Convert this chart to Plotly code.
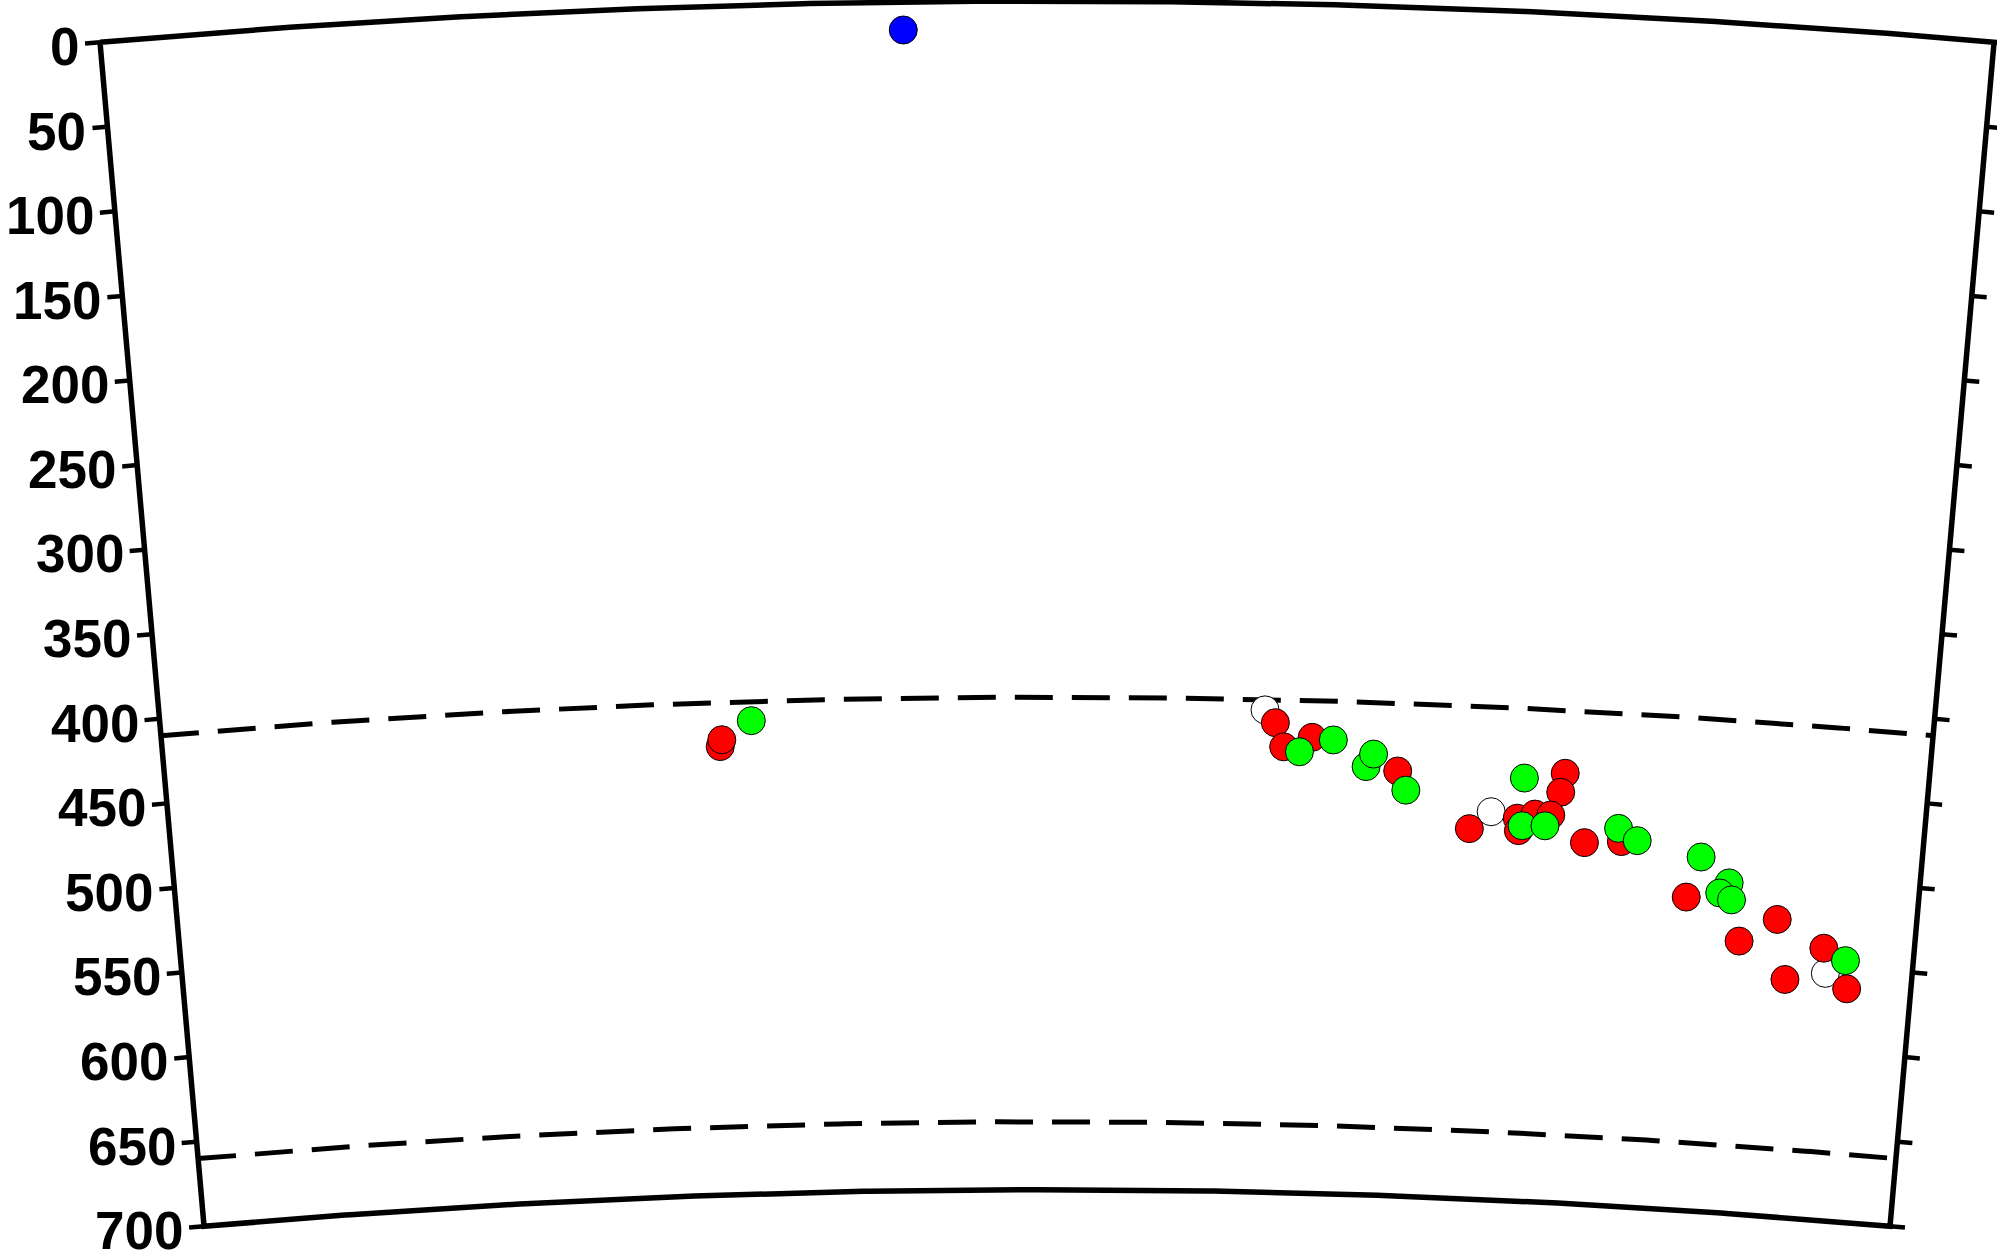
import numpy as np
import plotly.graph_objects as go

# ---------------- data ----------------
# distance along profile (degrees, 0..10) and depth (km)
red_dist = [3.15, 3.16, 6.29, 6.34, 6.50, 6.99, 7.94, 7.92, 7.41, 7.68, 7.69,
            7.78, 7.87, 8.07, 8.28, 8.67, 9.20, 8.99, 9.48, 9.27, 9.63]
red_depth = [436, 432, 423.5, 437.6, 431.6, 449.9, 447.0, 458.3, 482.2, 474.8, 482.1,
             471.9, 472.0, 487.2, 485.4, 515.7, 525.2, 539.5, 540.0, 560.1, 562.8]

green_dist = [3.33, 6.43, 6.62, 6.81, 6.85, 7.04, 7.71, 7.71, 7.84, 8.26, 8.37,
              8.74, 8.91, 8.86, 8.93, 9.61]
green_depth = [421.3, 440.3, 432.8, 447.9, 440.4, 461.0, 451.0, 479.1, 478.5, 477.7, 484.3,
               491.6, 505.7, 512.0, 515.6, 546.3]

white_dist = [6.23, 7.53, 9.50]
white_depth = [416.1, 471.7, 554.7]

blue_dist = [4.24]
blue_depth = [16.5]

depth_ticks = [0, 50, 100, 150, 200, 250, 300, 350, 400, 450, 500, 550, 600, 650, 700]
discontinuities = [410, 660]

EARTH_R = 6371.0
DIST_MIN, DIST_MAX = 0.0, 10.0
DEPTH_MIN, DEPTH_MAX = 0.0, 700.0
MID = (DIST_MIN + DIST_MAX) / 2


def to_xy(dist, depth):
    dist = np.asarray(dist, dtype=float)
    depth = np.asarray(depth, dtype=float)
    th = np.radians(dist - MID)
    r = EARTH_R - depth
    return r * np.sin(th), r * np.cos(th)


fig = go.Figure()

# ---------------- frame ----------------
arc = np.linspace(DIST_MIN, DIST_MAX, 300)
fx, fy = [], []
x, y = to_xy(arc, np.full_like(arc, DEPTH_MIN))
fx += list(x); fy += list(y)
x, y = to_xy([DIST_MAX, DIST_MAX], [DEPTH_MIN, DEPTH_MAX])
fx += list(x); fy += list(y)
x, y = to_xy(arc[::-1], np.full_like(arc, DEPTH_MAX))
fx += list(x); fy += list(y)
x, y = to_xy([DIST_MIN, DIST_MIN], [DEPTH_MAX, DEPTH_MIN])
fx += list(x); fy += list(y)
fig.add_trace(go.Scatter(x=fx, y=fy, mode="lines",
                         line=dict(color="black", width=5.5),
                         hoverinfo="skip"))

# ---------------- discontinuities (dashed) ----------------
for d in discontinuities:
    x, y = to_xy(arc, np.full_like(arc, d))
    fig.add_trace(go.Scatter(x=x, y=y, mode="lines",
                             line=dict(color="black", width=5, dash="38px,19px"),
                             hoverinfo="skip"))

# ---------------- ticks ----------------
TICK_KM = 8.8  # tick length along the arc
tx, ty = [], []
label_pos = []
for d in depth_ticks:
    r = EARTH_R - d
    dd = np.degrees(TICK_KM / r)
    x, y = to_xy([DIST_MIN, DIST_MIN - dd], [d, d])
    tx += list(x) + [None]; ty += list(y) + [None]
    label_pos.append((x[1], y[1]))
    x, y = to_xy([DIST_MAX, DIST_MAX + dd], [d, d])
    tx += list(x) + [None]; ty += list(y) + [None]
fig.add_trace(go.Scatter(x=tx, y=ty, mode="lines",
                         line=dict(color="black", width=4.5),
                         hoverinfo="skip"))

for d, (lx, ly) in zip(depth_ticks, label_pos):
    fig.add_annotation(x=lx, y=ly, text="<b>%d</b>" % d, showarrow=False,
                       xanchor="right", yanchor="middle", xshift=-4, yshift=-3,
                       font=dict(family="Liberation Sans, Arial, sans-serif",
                                 size=53, color="black"))

# ---------------- events ----------------
def add_points(dist, depth, color):
    x, y = to_xy(dist, depth)
    fig.add_trace(go.Scatter(x=x, y=y, mode="markers",
                             marker=dict(size=28, color=color,
                                         line=dict(color="black", width=1))))

add_points(white_dist, white_depth, "#ffffff")
add_points(red_dist, red_depth, "#ff0000")
add_points(green_dist, green_depth, "#00ff00")
add_points(blue_dist, blue_depth, "#0000ff")

fig.update_layout(
    width=1997, height=1255,
    margin=dict(l=0, r=0, t=0, b=0),
    paper_bgcolor="white", plot_bgcolor="white",
    showlegend=False,
    xaxis=dict(visible=False, range=[-613.9, 557.0], fixedrange=True),
    yaxis=dict(visible=False, range=[5632.5, 6371.6], fixedrange=True),
)

fig.write_html("out.html", config={"displayModeBar": False},
               post_script="document.body.style.margin='0';document.body.style.overflow='hidden';")
